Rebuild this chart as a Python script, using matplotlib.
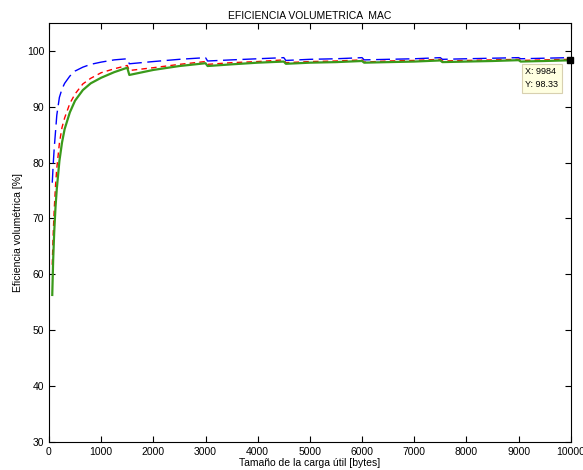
#Grafica de eficiencia volumetrica MAC.
import numpy as np
import matplotlib.pyplot as plt

plt.rcParams['font.family'] = ['Liberation Sans', 'DejaVu Sans']

#Tamaño de la carga util (bytes).
carga = [63, 80, 100, 125, 150, 200, 250, 300, 400, 500, 650, 800, 1000, 1250,
         1500, 1540, 2000, 2500, 3000, 3040, 3500, 4000, 4500, 4540, 5000, 5500,
         6000, 6040, 6500, 7000, 7500, 7540, 8000, 8500, 9000, 9040, 9500, 9984]

#Eficiencias (%).
ef_azul = [76.4, 79.5, 82.5, 85.5, 88.5, 91.7, 93.2, 94.2, 95.5, 96.4, 97.1, 97.6, 98.0, 98.4,
           98.6, 97.7, 98.1, 98.5, 98.8, 98.2, 98.4, 98.6, 98.8, 98.3, 98.5, 98.6,
           98.8, 98.4, 98.5, 98.6, 98.8, 98.5, 98.6, 98.7, 98.8, 98.6, 98.7, 98.8]
ef_roja = [61.7, 67.0, 71.5, 75.8, 79.0, 83.5, 86.3, 88.0, 90.6, 92.3, 94.1, 95.1, 96.1, 96.8,
           97.4, 96.5, 97.0, 97.6, 98.1, 97.6, 97.9, 98.1, 98.4, 97.9, 98.1, 98.2,
           98.4, 98.0, 98.2, 98.3, 98.5, 98.2, 98.3, 98.4, 98.5, 98.3, 98.4, 98.5]
ef_verde = [56.3, 62.5, 67.5, 72.0, 75.3, 80.3, 83.6, 86.0, 89.0, 91.1, 93.0, 94.2, 95.2, 96.2,
            97.0, 95.7, 96.6, 97.3, 97.8, 97.3, 97.6, 97.9, 98.1, 97.7, 97.9, 98.0,
            98.2, 97.9, 98.0, 98.1, 98.3, 98.0, 98.1, 98.2, 98.35, 98.1, 98.2, 98.33]

#Punto marcado (data tip).
tip_x = 9984
tip_y = 98.33

fig = plt.figure(figsize=(5.83, 4.7), dpi=100)
ax = fig.add_axes([0.084, 0.06, 0.895, 0.891])

ax.plot(carga, ef_azul, color='#0000ff', lw=1, dashes=(10, 4))
ax.plot(carga, ef_roja, color='#ff0000', lw=1, dashes=(4, 3))
ax.plot(carga, ef_verde, color='#3a9a1a', lw=1.6)

#Data tip.
ax.plot([tip_x], [tip_y], 's', color='black', ms=5, clip_on=False, zorder=5)
ax.annotate('X: %d\nY: %.2f' % (tip_x, tip_y), xy=(tip_x, tip_y), xytext=(-32, -5),
            textcoords='offset points', ha='left', va='top', fontsize=6.5,
            linespacing=1.6,
            bbox=dict(boxstyle='square,pad=0.4', fc='#ffffe1', ec='#d8d0b0', lw=0.8))

ax.set_xlim(0, 10000)
ax.set_ylim(30, 105)
ax.set_xticks(np.arange(0, 10001, 1000))
ax.set_yticks(np.arange(30, 101, 10))
ax.tick_params(direction='in', top=True, right=True, labelsize=7.5, length=4, width=0.8)
for s in ax.spines.values():
    s.set_linewidth(0.8)

ax.set_title('EFICIENCIA VOLUMETRICA  MAC', fontsize=7.5, pad=3)
ax.set_xlabel('Tamaño de la carga útil [bytes]', fontsize=7.5, labelpad=1)
ax.set_ylabel('Eficiencia volumétrica [%]', fontsize=7.5, labelpad=3)

fig.savefig('out.png', dpi=100)
